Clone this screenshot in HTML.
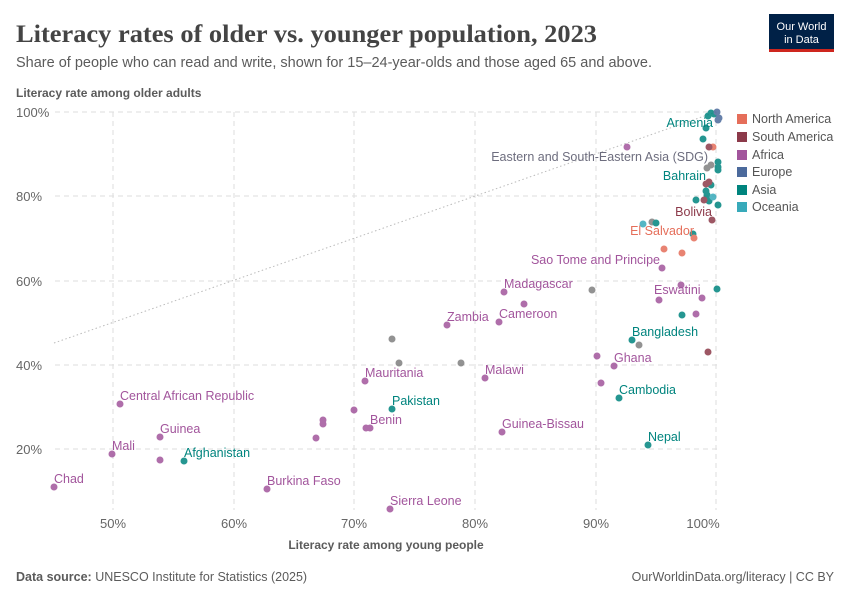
<!DOCTYPE html>
<html><head><meta charset="utf-8"><style>
body{margin:0;background:#fff;}
svg{display:block;font-family:"Liberation Sans",sans-serif;}
</style></head><body>
<svg width="850" height="600" viewBox="0 0 850 600">
<rect width="850" height="600" fill="#fff"/>
<text x="16" y="42" font-family="Liberation Serif,serif" font-size="25" font-weight="bold" fill="#444" textLength="581" lengthAdjust="spacingAndGlyphs">Literacy rates of older vs. younger population, 2023</text>
<text x="16" y="67" font-size="14.5" fill="#5b5b5b">Share of people who can read and write, shown for 15–24-year-olds and those aged 65 and above.</text>
<rect x="769" y="14" width="65" height="36" fill="#002147"/>
<rect x="769" y="49" width="65" height="3" fill="#ce261e"/>
<text x="801.5" y="30" text-anchor="middle" font-size="11" fill="#fff">Our World</text>
<text x="801.5" y="43" text-anchor="middle" font-size="11" fill="#fff">in Data</text>
<text x="16" y="97" font-size="12" font-weight="bold" fill="#5b5b5b">Literacy rate among older adults</text>
<g stroke="#ddd" stroke-dasharray="5,4" stroke-width="1">
<line x1="55" x2="718" y1="112" y2="112"/><line x1="55" x2="718" y1="196" y2="196"/><line x1="55" x2="718" y1="281" y2="281"/><line x1="55" x2="718" y1="365" y2="365"/><line x1="55" x2="718" y1="449" y2="449"/>
<line x1="113" x2="113" y1="112" y2="510"/><line x1="234" x2="234" y1="112" y2="510"/><line x1="354" x2="354" y1="112" y2="510"/><line x1="475" x2="475" y1="112" y2="510"/><line x1="596" x2="596" y1="112" y2="510"/><line x1="716" x2="716" y1="112" y2="510"/>
</g>
<line x1="54" y1="343" x2="716" y2="112" stroke="#bbb" stroke-dasharray="1.5,2.5"/>
<g font-size="13" fill="#666">
<text x="16" y="117">100%</text><text x="16" y="201">80%</text><text x="16" y="286">60%</text><text x="16" y="370">40%</text><text x="16" y="454">20%</text>
</g>
<g font-size="13" fill="#666" text-anchor="middle">
<text x="113" y="528">50%</text><text x="234" y="528">60%</text><text x="354" y="528">70%</text><text x="475" y="528">80%</text><text x="596" y="528">90%</text><text x="703" y="528">100%</text>
</g>
<text x="386" y="549" text-anchor="middle" font-size="12" font-weight="bold" fill="#5b5b5b">Literacy rate among young people</text>
<g opacity="0.85">
<g fill="#a2559c">
<circle cx="54" cy="487" r="3.5"/><circle cx="112" cy="454" r="3.5"/><circle cx="160" cy="437" r="3.5"/><circle cx="120" cy="404" r="3.5"/><circle cx="160" cy="460" r="3.5"/><circle cx="267" cy="489" r="3.5"/><circle cx="365" cy="381" r="3.5"/><circle cx="323" cy="420" r="3.5"/><circle cx="323" cy="424" r="3.5"/><circle cx="316" cy="438" r="3.5"/><circle cx="354" cy="410" r="3.5"/><circle cx="366" cy="428" r="3.5"/><circle cx="370" cy="428" r="3.5"/><circle cx="390" cy="509" r="3.5"/><circle cx="447" cy="325" r="3.5"/><circle cx="485" cy="378" r="3.5"/><circle cx="504" cy="292" r="3.5"/><circle cx="524" cy="304" r="3.5"/><circle cx="499" cy="322" r="3.5"/><circle cx="502" cy="432" r="3.5"/><circle cx="614" cy="366" r="3.5"/><circle cx="597" cy="356" r="3.5"/><circle cx="601" cy="383" r="3.5"/><circle cx="659" cy="300" r="3.5"/><circle cx="681" cy="285" r="3.5"/><circle cx="696" cy="314" r="3.5"/><circle cx="702" cy="298" r="3.5"/><circle cx="662" cy="268" r="3.5"/><circle cx="627" cy="147" r="3.5"/>
</g>
<g fill="#7f7f7f"><circle cx="392" cy="339" r="3.5"/><circle cx="461" cy="363" r="3.5"/><circle cx="399" cy="363" r="3.5"/><circle cx="592" cy="290" r="3.5"/><circle cx="639" cy="345" r="3.5"/><circle cx="652" cy="222" r="3.5"/><circle cx="711" cy="165" r="3.5"/><circle cx="707" cy="168" r="3.5"/></g>
<g fill="#00847e"><circle cx="184" cy="461" r="3.5"/><circle cx="392" cy="409" r="3.5"/><circle cx="619" cy="398" r="3.5"/><circle cx="632" cy="340" r="3.5"/><circle cx="648" cy="445" r="3.5"/><circle cx="682" cy="315" r="3.5"/><circle cx="717" cy="289" r="3.5"/><circle cx="693" cy="234" r="3.5"/><circle cx="656" cy="223" r="3.5"/><circle cx="714" cy="114" r="3.5"/><circle cx="706" cy="128" r="3.5"/><circle cx="703" cy="139" r="3.5"/><circle cx="718" cy="162" r="3.5"/><circle cx="718" cy="167" r="3.5"/><circle cx="718" cy="170" r="3.5"/><circle cx="711" cy="185" r="3.5"/><circle cx="706" cy="191" r="3.5"/><circle cx="707" cy="195" r="3.5"/><circle cx="718" cy="205" r="3.5"/><circle cx="696" cy="200" r="3.5"/><circle cx="709" cy="201" r="3.5"/><circle cx="711" cy="113" r="3.5"/><circle cx="708" cy="116" r="3.5"/></g>
<g fill="#e56e5a"><circle cx="664" cy="249" r="3.5"/><circle cx="682" cy="253" r="3.5"/><circle cx="694" cy="238" r="3.5"/><circle cx="713" cy="147" r="3.5"/></g>
<g fill="#8c3a4a"><circle cx="712" cy="220" r="3.5"/><circle cx="709" cy="147" r="3.5"/><circle cx="706" cy="184" r="3.5"/><circle cx="709" cy="182" r="3.5"/><circle cx="704" cy="200" r="3.5"/><circle cx="708" cy="352" r="3.5"/></g>
<g fill="#4c6a9c"><circle cx="717" cy="112" r="3.5"/><circle cx="719" cy="118" r="3.5"/><circle cx="718" cy="120" r="3.5"/></g>
<g fill="#38aaba"><circle cx="713" cy="197" r="3.5"/><circle cx="643" cy="224" r="3.5"/></g>
</g>
<g font-size="12.5">
<g fill="#a2559c"><text x="54" y="483">Chad</text><text x="112" y="450">Mali</text><text x="160" y="433">Guinea</text><text x="120" y="400">Central African Republic</text><text x="267" y="485">Burkina Faso</text><text x="365" y="377">Mauritania</text><text x="370" y="424">Benin</text><text x="390" y="505">Sierra Leone</text><text x="447" y="321">Zambia</text><text x="485" y="374">Malawi</text><text x="504" y="288">Madagascar</text><text x="499" y="318">Cameroon</text><text x="502" y="428">Guinea-Bissau</text><text x="614" y="362">Ghana</text><text x="654" y="294">Eswatini</text><text x="660" y="264" text-anchor="end">Sao Tome and Principe</text></g>
<g fill="#00847e"><text x="184" y="457">Afghanistan</text><text x="392" y="405">Pakistan</text><text x="619" y="394">Cambodia</text><text x="632" y="336">Bangladesh</text><text x="648" y="441">Nepal</text><text x="706" y="180" text-anchor="end">Bahrain</text><text x="713" y="127" text-anchor="end">Armenia</text></g>
<text x="708" y="161" text-anchor="end" fill="#6d6d7e">Eastern and South-Eastern Asia (SDG)</text>
<text x="712" y="216" text-anchor="end" fill="#8c3a4a">Bolivia</text>
<text x="694" y="235" text-anchor="end" fill="#e56e5a">El Salvador</text>
</g>
<g font-size="12.5" fill="#555">
<rect x="737" y="114" width="10" height="10" fill="#e56e5a"/><text x="752" y="123">North America</text>
<rect x="737" y="132" width="10" height="10" fill="#8c3a4a"/><text x="752" y="141">South America</text>
<rect x="737" y="150" width="10" height="10" fill="#a2559c"/><text x="752" y="159">Africa</text>
<rect x="737" y="167" width="10" height="10" fill="#4c6a9c"/><text x="752" y="176">Europe</text>
<rect x="737" y="185" width="10" height="10" fill="#00847e"/><text x="752" y="194">Asia</text>
<rect x="737" y="202" width="10" height="10" fill="#38aaba"/><text x="752" y="211">Oceania</text>
</g>
<text x="16" y="581" font-size="12.5" fill="#5b5b5b"><tspan font-weight="bold">Data source:</tspan> UNESCO Institute for Statistics (2025)</text>
<text x="834" y="581" text-anchor="end" font-size="12.5" fill="#5b5b5b">OurWorldinData.org/literacy | CC BY</text>
</svg>
</body></html>
